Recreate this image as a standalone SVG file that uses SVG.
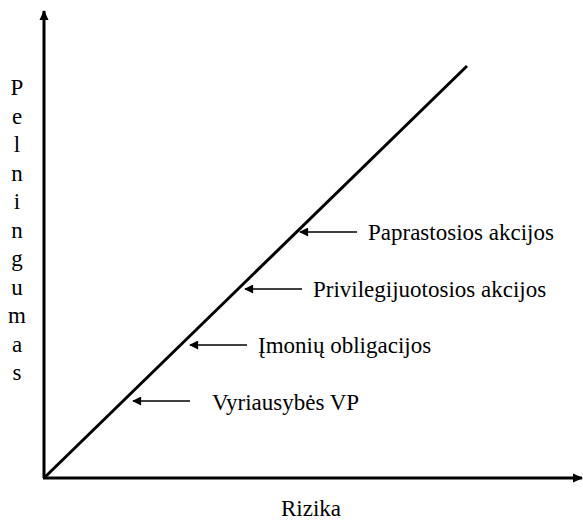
<svg xmlns="http://www.w3.org/2000/svg" width="583" height="520" viewBox="0 0 583 520">
<style>
text{font-family:"Liberation Serif","Times New Roman",serif;font-size:23px;fill:#000}
.axis{stroke:#000;stroke-width:3;fill:none}
.ptr{stroke:#000;stroke-width:1.6;fill:none}
</style>
<defs>
<marker id="ah" viewBox="0 0 10 10" refX="9" refY="5" markerWidth="10" markerHeight="10" markerUnits="userSpaceOnUse" orient="auto">
<path d="M0,0.5 L10,5 L0,9.5 z" fill="#000"/>
</marker>
<marker id="sh" viewBox="0 0 10 10" refX="9" refY="5" markerWidth="10" markerHeight="9" markerUnits="userSpaceOnUse" orient="auto">
<path d="M0,0 L10,5 L0,10 z" fill="#000"/>
</marker>
</defs>
<rect width="583" height="520" fill="#fff"/>
<g id="axes">
<line class="axis" x1="44" y1="478" x2="44" y2="11" marker-end="url(#ah)"/>
<line class="axis" x1="43" y1="478" x2="582" y2="478" marker-end="url(#ah)"/>
<line class="axis" x1="44" y1="478" x2="467" y2="66" stroke-width="2.6"/>
</g>
<g id="y-label">
<text x="17" y="95" text-anchor="middle">P</text>
<text x="17" y="123.5" text-anchor="middle">e</text>
<text x="17" y="152" text-anchor="middle">l</text>
<text x="17" y="180.5" text-anchor="middle">n</text>
<text x="17" y="209" text-anchor="middle">i</text>
<text x="17" y="237.5" text-anchor="middle">n</text>
<text x="17" y="266" text-anchor="middle">g</text>
<text x="17" y="294.5" text-anchor="middle">u</text>
<text x="17" y="323" text-anchor="middle">m</text>
<text x="17" y="351.5" text-anchor="middle">a</text>
<text x="17" y="380" text-anchor="middle">s</text>
</g>
<g id="x-label"><text x="311" y="516" text-anchor="middle">Rizika</text></g>
<g id="connectors">
<line class="ptr" x1="357" y1="232" x2="300" y2="232" marker-end="url(#sh)"/>
<line class="ptr" x1="302" y1="289" x2="245" y2="289" marker-end="url(#sh)"/>
<line class="ptr" x1="247" y1="345" x2="190" y2="345" marker-end="url(#sh)"/>
<line class="ptr" x1="190" y1="401" x2="133" y2="401" marker-end="url(#sh)"/>
</g>
<g id="n1"><text x="368" y="240">Paprastosios akcijos</text></g>
<g id="n2"><text x="313" y="297">Privilegijuotosios akcijos</text></g>
<g id="n3"><text x="258" y="353">Įmonių obligacijos</text></g>
<g id="n4"><text x="212" y="410">Vyriausybės VP</text></g>
</svg>
